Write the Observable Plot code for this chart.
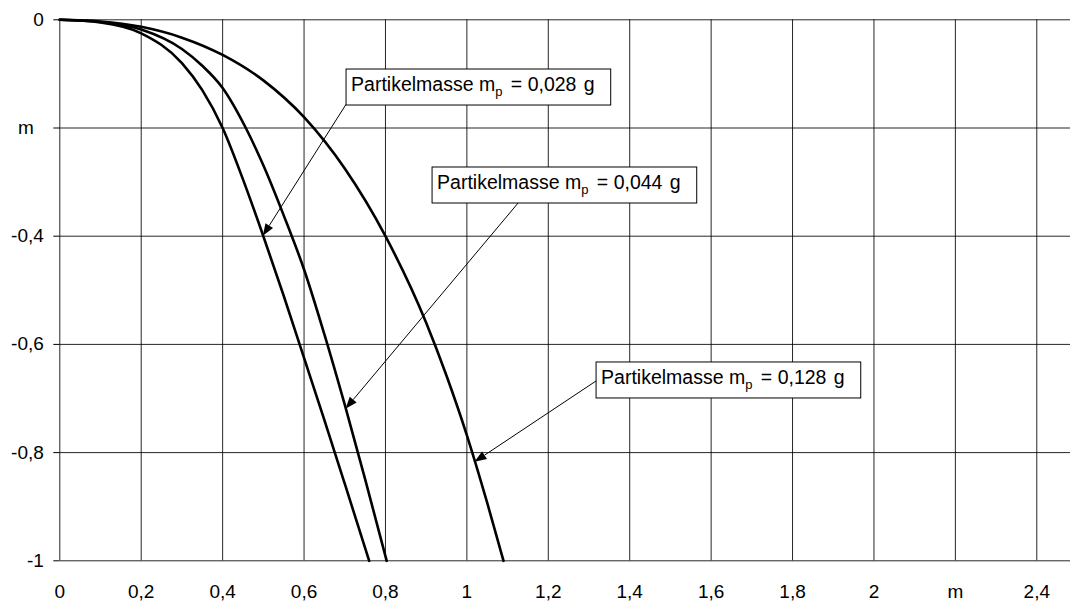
<!DOCTYPE html>
<html>
<head>
<meta charset="utf-8">
<script src="https://cdn.jsdelivr.net/npm/d3@7"></script>
<script src="https://cdn.jsdelivr.net/npm/@observablehq/plot@0.6"></script>
<style>
  html, body { margin: 0; padding: 0; background: #fff; overflow: hidden; }
  #chart svg { display: block; max-width: none !important; }
</style>
</head>
<body>
<div id="chart"></div>
<script>
// Axis ticks and their printed labels (German decimal comma; unit "m" replaces one label)
const xTicks = [0, 0.2, 0.4, 0.6, 0.8, 1, 1.2, 1.4, 1.6, 1.8, 2, 2.2, 2.4];
const xTickLabels = ["0", "0,2", "0,4", "0,6", "0,8", "1", "1,2", "1,4", "1,6", "1,8", "2", "m", "2,4"];
const yTicks = [0, -0.2, -0.4, -0.6, -0.8, -1];
const yTickLabels = ["0", "", "-0,4", "-0,6", "-0,8", "-1"];
const yUnit = "m";
const yUnitAt = -0.2;

// Trajectories of particles of different mass (horizontal distance x, height y in m)
const masses = ["0,028", "0,044", "0,128"];
const x028 = [0, 0.1, 0.2, 0.3, 0.35, 0.4, 0.45, 0.5, 0.55, 0.6, 0.65, 0.7, 0.76];
const y028 = [0, -0.005, -0.025, -0.08, -0.13, -0.2, -0.295, -0.4, -0.51, -0.625, -0.74, -0.8575, -1];
const x044 = [0, 0.1, 0.2, 0.3, 0.35, 0.4, 0.457, 0.5, 0.55, 0.6, 0.65, 0.7, 0.75, 0.803];
const y044 = [0, -0.004, -0.018, -0.054, -0.085, -0.126, -0.2, -0.269, -0.3615, -0.4615, -0.5815, -0.7115, -0.849, -1];
const x128 = [0, 0.1, 0.2, 0.3, 0.4, 0.5, 0.6, 0.7, 0.8, 0.9, 0.95, 1.0, 1.05, 1.09];
const y128 = [0, -0.003, -0.013, -0.033, -0.065, -0.112, -0.18, -0.275, -0.4, -0.56, -0.658, -0.768, -0.893, -1];

// Callout boxes: top-left corner of the box, start of the leader line, and arrow tip on the curve
const calloutBoxX = [0.7044, 0.9157, 1.3186];
const calloutBoxY = [-0.0919, -0.273, -0.6334];
const leaderStartX = [0.7044, 1.127, 1.3186];
const leaderStartY = [-0.1571, -0.3396, -0.6685];
const arrowTipX = [0.5, 0.703, 1.02];
const arrowTipY = [-0.4, -0.72, -0.818];

const series = [
  {mass: masses[0], xs: x028, ys: y028},
  {mass: masses[1], xs: x044, ys: y044},
  {mass: masses[2], xs: x128, ys: y128}
];
const trajectories = series.flatMap(s => s.xs.map((x, i) => ({mass: s.mass, x, y: s.ys[i]})));

const FONT = "'Liberation Sans', Arial, Helvetica, sans-serif";
const labelFor = (ticks, labels) => d => {
  const i = ticks.findIndex(t => Math.abs(t - d) < 1e-9);
  return i < 0 ? "" : labels[i];
};

const chart = Plot.plot({
  width: 1077,
  height: 601,
  marginLeft: 59.3,
  marginRight: 0,
  marginTop: 19.3,
  marginBottom: 40.7,
  style: {fontFamily: FONT, fontSize: "19px", background: "#fff", color: "#000"},
  x: {domain: [0, 2.5]},
  y: {domain: [-1, 0]},
  marks: [
    Plot.ruleX(xTicks, {stroke: "#000", strokeWidth: 1, strokeOpacity: 0.85}),
    Plot.ruleY(yTicks, {stroke: "#000", strokeWidth: 1, strokeOpacity: 0.85}),
    Plot.axisX({ticks: xTicks, tickFormat: labelFor(xTicks, xTickLabels), tickSize: 0, tickPadding: 24, fontSize: 19, label: null}),
    Plot.axisY({ticks: yTicks, tickFormat: labelFor(yTicks, yTickLabels), tickSize: 6, tickPadding: 10, fontSize: 19, label: null}),
    Plot.text([yUnit], {x: 0, y: yUnitAt, text: d => d, dx: -34, fontSize: 19, textAnchor: "middle"}),
    Plot.line(trajectories, {x: "x", y: "y", z: "mass", stroke: "#000", strokeWidth: 2.6, curve: "monotone-x"})
  ]
});

document.getElementById("chart").appendChild(chart);

// Callouts with leader arrows, positioned through the plot's scales
const sx = chart.scale("x"), sy = chart.scale("y");
const layer = d3.select(chart).append("g")
  .attr("font-family", FONT).attr("font-size", 19.5).attr("fill", "#000").attr("text-anchor", "start");

masses.forEach((mass, i) => {
  const x1 = sx.apply(leaderStartX[i]), y1 = sy.apply(leaderStartY[i]);
  const x2 = sx.apply(arrowTipX[i]), y2 = sy.apply(arrowTipY[i]);
  const ang = Math.atan2(y2 - y1, x2 - x1);
  const headLen = 12, headHalf = 4.5;
  const bx = x2 - headLen * Math.cos(ang), by = y2 - headLen * Math.sin(ang);
  layer.append("line")
    .attr("x1", x1).attr("y1", y1).attr("x2", bx).attr("y2", by)
    .attr("stroke", "#000").attr("stroke-width", 1);
  const px = -Math.sin(ang), py = Math.cos(ang);
  layer.append("path")
    .attr("d", `M${x2},${y2}L${bx + px * headHalf},${by + py * headHalf}L${bx - px * headHalf},${by - py * headHalf}Z`)
    .attr("fill", "#000");
});

masses.forEach((mass, i) => {
  const left = sx.apply(calloutBoxX[i]), top = sy.apply(calloutBoxY[i]);
  const rect = layer.append("rect");
  const t = layer.append("text").attr("x", left + 5).attr("y", top + 22);
  t.append("tspan").text("Partikelmasse m");
  t.append("tspan").attr("font-size", 13).attr("dy", 5).text("p");
  t.append("tspan").attr("dy", -5).attr("dx", 3).text(` = ${mass}`);
  t.append("tspan").attr("dx", 2).text(" g");
  const bb = t.node().getBBox();
  rect.attr("x", left).attr("y", top)
    .attr("width", bb.x + bb.width + 16 - left).attr("height", 36)
    .attr("fill", "#fff").attr("stroke", "#000").attr("stroke-width", 1);
});
</script>
</body>
</html>
